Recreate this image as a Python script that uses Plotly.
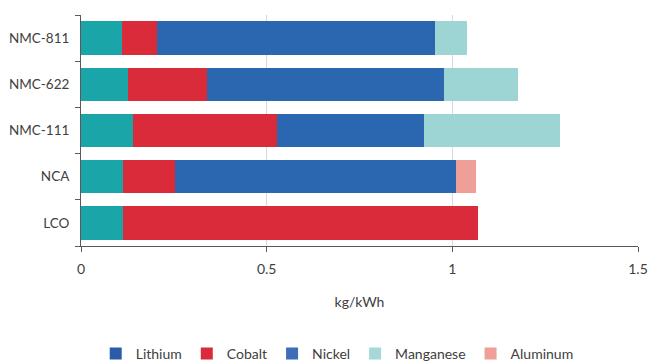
import plotly.graph_objects as go

# Cathode chemistries (bottom to top on the category axis)
chemistries = ["LCO", "NCA", "NMC-111", "NMC-622", "NMC-811"]

# Material intensity, kg per kWh
lithium = [0.114, 0.113, 0.139, 0.126, 0.110]
cobalt = [0.955, 0.140, 0.390, 0.212, 0.094]
nickel = [0.0, 0.756, 0.394, 0.640, 0.749]
manganese = [0.0, 0.0, 0.366, 0.199, 0.086]
aluminum = [0.0, 0.054, 0.0, 0.0, 0.0]

series_names = ["Lithium", "Cobalt", "Nickel", "Manganese", "Aluminum"]
series_values = [lithium, cobalt, nickel, manganese, aluminum]
bar_colors = ["#1aa6a8", "#d92b3a", "#2b66b0", "#9dd4d4", "#eea098"]
legend_colors = ["#2a5ca8", "#d92b3a", "#3f6db8", "#a6d8d8", "#eea098"]

x_ticks = [0, 0.5, 1, 1.5]
x_tick_labels = ["0", "0.5", "1", "1.5"]

font_family = "Lato, 'Open Sans', sans-serif"
text_color = "#404040"

fig = go.Figure()

for name, vals, col in zip(series_names, series_values, bar_colors):
    fig.add_trace(go.Bar(
        y=chemistries, x=vals, name=name, orientation="h",
        marker=dict(color=col, line=dict(width=0)),
        showlegend=False, hoverinfo="x+name",
    ))

# Legend entries
for name, col in zip(series_names, legend_colors):
    fig.add_trace(go.Bar(
        y=[None], x=[None], name=name, orientation="h",
        marker=dict(color=col, line=dict(width=0)),
        showlegend=True,
    ))

fig.update_layout(
    barmode="stack",
    bargap=0.28,
    width=648, height=363,
    margin=dict(l=81, r=10, t=15, b=117, autoexpand=False),
    paper_bgcolor="white", plot_bgcolor="white",
    font=dict(family=font_family, size=14, color=text_color),
    legend=dict(
        orientation="h", traceorder="normal",
        xanchor="center", x=0.46,
        yref="container", y=0.025, yanchor="middle",
        font=dict(size=14, color=text_color),
        itemwidth=30, tracegroupgap=0,
    ),
    xaxis=dict(
        range=[0, 1.5], tickvals=x_ticks, ticktext=x_tick_labels,
        showgrid=True, gridcolor="#d9d9d9", gridwidth=1,
        zeroline=False, automargin=False,
        showline=True, linecolor="#595959", linewidth=1,
        ticks="outside", ticklen=5, tickcolor="#595959",
        ticklabelstandoff=5,
        title=dict(text="kg/kWh", standoff=21, font=dict(size=14, color=text_color)),
        tickfont=dict(size=14, color=text_color),
    ),
    yaxis=dict(
        categoryorder="array", categoryarray=chemistries,
        automargin=False,
        showline=True, linecolor="#595959", linewidth=1,
        ticks="outside", ticklen=5, tickcolor="#595959",
        tickson="boundaries",
        showgrid=False,
        ticklabelstandoff=8,
        tickfont=dict(size=13.5, color=text_color),
    ),
)

fig.write_html("out.html")
